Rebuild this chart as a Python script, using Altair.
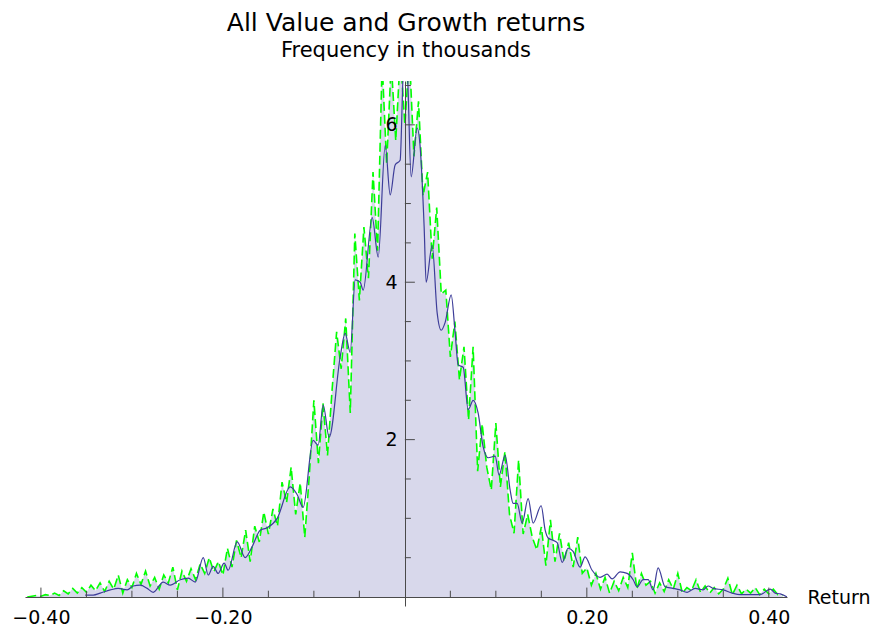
import altair as alt
import pandas as pd

# ---- data ----
blue_x = [-0.3513, -0.3425, -0.3348, -0.3238, -0.3151, -0.3052, -0.2986, -0.2909, -0.2832, -0.2766,
          -0.2656, -0.2579, -0.2469, -0.2381, -0.2304, -0.2216, -0.2161, -0.2107, -0.2052, -0.1986,
          -0.1942, -0.1843, -0.1755, -0.1678, -0.1590, -0.1513, -0.1403, -0.1260, -0.1183, -0.1118,
          -0.1008, -0.0953, -0.0898, -0.0832, -0.0711, -0.0656, -0.0601, -0.0546, -0.0491, -0.0458,
          -0.0359, -0.0293, -0.0216, -0.0161, -0.0107, -0.0052, -0.0020, 0.0005, 0.0030, 0.0069,
          0.0135, 0.0168, 0.0212, 0.0234, 0.0300, 0.0355, 0.0399, 0.0443, 0.0509, 0.0553,
          0.0586, 0.0641, 0.0696, 0.0751, 0.0805, 0.0860, 0.0915, 0.0992, 0.1036, 0.1102,
          0.1157, 0.1190, 0.1234, 0.1289, 0.1355, 0.1410, 0.1498, 0.1542, 0.1575, 0.1630,
          0.1674, 0.1729, 0.1794, 0.1849, 0.1926, 0.1981, 0.2058, 0.2146, 0.2223, 0.2278,
          0.2366, 0.2443, 0.2509, 0.2553, 0.2619, 0.2674, 0.2729, 0.2783, 0.2860, 0.2948,
          0.3025, 0.3102, 0.3190, 0.3278, 0.3333, 0.3388, 0.3498, 0.3597, 0.3685, 0.3795,
          0.3905, 0.4015, 0.4070, 0.4125, 0.4202]
blue_y = [0.025, 0.025, 0.05, 0.09, 0.11, 0.09, 0.14, 0.15, 0.11, 0.06,
          0.19, 0.15, 0.22, 0.24, 0.19, 0.50, 0.28, 0.39, 0.30, 0.43,
          0.34, 0.70, 0.50, 0.64, 0.85, 0.88, 1.00, 1.40, 1.30, 1.14,
          1.99, 1.93, 2.44, 2.03, 3.05, 3.35, 3.11, 4.03, 4.00, 3.90,
          4.82, 4.32, 5.74, 5.11, 5.49, 5.55, 6.60, 6.90, 6.60, 5.34,
          5.96, 5.72, 4.70, 4.00, 4.47, 3.61, 3.39, 3.49, 3.84, 3.35,
          2.95, 2.92, 2.38, 2.50, 2.34, 1.91, 1.77, 1.79, 1.55, 1.80,
          1.36, 1.19, 1.19, 0.94, 1.25, 0.94, 1.16, 0.85, 0.75, 0.72,
          0.69, 0.44, 0.62, 0.58, 0.38, 0.51, 0.34, 0.25, 0.29, 0.23,
          0.32, 0.30, 0.22, 0.13, 0.22, 0.22, 0.09, 0.37, 0.13, 0.11,
          0.09, 0.06, 0.11, 0.09, 0.14, 0.11, 0.09, 0.05, 0.03, 0.03,
          0.03, 0.10, 0.05, 0.04, 0.00]

green_x = [-0.415, -0.410, -0.405, -0.400, -0.395, -0.390, -0.385, -0.380, -0.375, -0.370,
           -0.365, -0.360, -0.355, -0.350, -0.345, -0.340, -0.335, -0.330, -0.325, -0.320,
           -0.315, -0.310, -0.305, -0.300, -0.295, -0.290, -0.285, -0.280, -0.275, -0.270,
           -0.265, -0.260, -0.255, -0.250, -0.245, -0.240, -0.235, -0.230, -0.225, -0.220,
           -0.215, -0.210, -0.205, -0.200, -0.195, -0.190, -0.185, -0.180, -0.175, -0.170,
           -0.165, -0.160, -0.155, -0.150, -0.145, -0.140, -0.135, -0.130, -0.125, -0.120,
           -0.115, -0.110, -0.105, -0.100, -0.095, -0.090, -0.085, -0.080, -0.075, -0.070,
           -0.065, -0.060, -0.055, -0.050, -0.045, -0.040, -0.035, -0.030, -0.025, -0.020,
           -0.015, -0.010, -0.005, 0.000, 0.005, 0.010, 0.015, 0.020, 0.025, 0.030,
           0.035, 0.040, 0.045, 0.050, 0.055, 0.060, 0.065, 0.070, 0.075, 0.080,
           0.085, 0.090, 0.095, 0.100, 0.105, 0.110, 0.115, 0.120, 0.125, 0.130,
           0.135, 0.140, 0.145, 0.150, 0.155, 0.160, 0.165, 0.170, 0.175, 0.180,
           0.185, 0.190, 0.195, 0.200, 0.205, 0.210, 0.215, 0.220, 0.225, 0.230,
           0.235, 0.240, 0.245, 0.250, 0.255, 0.260, 0.265, 0.270, 0.275, 0.280,
           0.285, 0.290, 0.295, 0.300, 0.305, 0.310, 0.315, 0.320, 0.325, 0.330,
           0.335, 0.340, 0.345, 0.350, 0.355, 0.360, 0.365, 0.370, 0.375, 0.380,
           0.385, 0.390, 0.395, 0.400, 0.405, 0.410, 0.415]
green_y = [0.00, 0.01, 0.02, 0.01, 0.03, 0.02, 0.05, 0.02, 0.08, 0.04,
           0.11, 0.05, 0.12, 0.06, 0.15, 0.08, 0.18, 0.07, 0.20, 0.10,
           0.28, 0.05, 0.22, 0.12, 0.30, 0.16, 0.33, 0.14, 0.25, 0.10,
           0.28, 0.18, 0.38, 0.09, 0.33, 0.20, 0.36, 0.22, 0.42, 0.30,
           0.50, 0.32, 0.45, 0.28, 0.62, 0.38, 0.72, 0.50, 0.85, 0.45,
           0.90, 0.70, 1.08, 0.80, 1.12, 0.90, 1.46, 1.20, 1.65, 1.05,
           1.45, 0.76, 1.55, 2.50, 1.70, 2.46, 1.80, 2.63, 3.37, 2.90,
           3.54, 2.34, 4.62, 3.77, 4.70, 4.05, 5.40, 4.40, 6.80, 5.50,
           6.80, 5.80, 6.90, 6.00, 6.90, 5.60, 6.30, 5.10, 5.40, 4.30,
           4.95, 3.85, 3.90, 3.05, 3.50, 2.76, 3.18, 2.25, 3.18, 1.60,
           2.20, 1.65, 1.36, 2.21, 1.40, 1.85, 1.05, 0.81, 1.74, 0.80,
           1.05, 0.76, 0.60, 0.89, 0.40, 0.98, 0.45, 0.81, 0.45, 0.69,
           0.38, 0.76, 0.30, 0.37, 0.15, 0.30, 0.10, 0.25, 0.05, 0.20,
           0.08, 0.25, 0.12, 0.56, 0.10, 0.30, 0.15, 0.20, 0.05, 0.18,
           0.07, 0.22, 0.10, 0.30, 0.05, 0.12, 0.08, 0.22, 0.06, 0.14,
           0.05, 0.12, 0.04, 0.10, 0.24, 0.03, 0.15, 0.04, 0.10, 0.05,
           0.12, 0.03, 0.10, 0.04, 0.10, 0.03, 0.02]

x_major = [-0.4, -0.2, 0.2, 0.4]
x_minor = [-0.35, -0.3, -0.25, -0.15, -0.1, -0.05, 0.05, 0.1, 0.15, 0.25, 0.3, 0.35]
y_major = [2, 4, 6]
y_minor = [0.5, 1, 1.5, 2.5, 3, 3.5, 4.5, 5, 5.5, 6.5]

title_text = "All Value and Growth returns"
subtitle_text = "Frequency in thousands"
x_title = "Return"

# ---- tables ----
blue_df = pd.DataFrame({"r": blue_x, "f": blue_y})
green_df = pd.DataFrame({"r": green_x, "f": green_y})
xmaj_df = pd.DataFrame({"r": x_major})
xmin_df = pd.DataFrame({"r": x_minor})
ymaj_df = pd.DataFrame({"f": y_major})
ymin_df = pd.DataFrame({"f": y_minor})

FONT = "DejaVu Sans"
AX = "#4a4a4a"
W, H = 762, 525
xs = alt.Scale(domain=[-0.4175, 0.42], nice=False, zero=False)
ys = alt.Scale(domain=[-0.114, 6.557], nice=False, zero=False)

x_axis = alt.Axis(values=x_major, offset=-9, ticks=False, grid=False, zindex=1,
                  domainColor=AX, domainWidth=1,
                  labelExpr="replace(format(datum.value, '.2f'), '-', '\u2212')",
                  labelFont=FONT, labelFontSize=19, labelColor="black", labelPadding=11,
                  labelFlush=False, labelOverlap=False,
                  title=x_title, titleX=W + 20, titleY=0, titleAlign="left",
                  titleBaseline="middle", titleFont=FONT, titleFontSize=19,
                  titleFontWeight="normal", titleColor="black", titleAngle=0)
y_axis = alt.Axis(values=y_major, orient="left", offset=-380, ticks=False, grid=False,
                  zindex=1, domainColor=AX, domainWidth=1, format="d", labelFont=FONT,
                  labelFontSize=19, labelColor="black", labelPadding=8,
                  labelFlush=False, labelOverlap=False, title=None)

area = alt.Chart(green_df).mark_area(color="#D8D8EB", clip=True).encode(
    x=alt.X("r:Q", scale=xs, axis=x_axis),
    y=alt.Y("f:Q", scale=ys, axis=y_axis),
    y2=alt.datum(0),
)
green = alt.Chart(green_df).mark_line(color="#00FF00", strokeWidth=1.6,
                                      strokeDash=[9, 4], clip=True).encode(
    x="r:Q", y="f:Q")
blue = alt.Chart(blue_df).mark_line(color="#3D3D99", strokeWidth=1.2,
                                    interpolate="monotone", clip=True).encode(
    x="r:Q", y="f:Q")

xt_major = alt.Chart(xmaj_df).mark_rule(color=AX, strokeWidth=1).encode(
    x="r:Q", y=alt.datum(0), y2=alt.datum(0.12))
xt_minor = alt.Chart(xmin_df).mark_rule(color=AX, strokeWidth=1).encode(
    x="r:Q", y=alt.datum(0), y2=alt.datum(0.08))
yt_major = alt.Chart(ymaj_df).mark_rule(color=AX, strokeWidth=1).encode(
    y="f:Q", x=alt.datum(0), x2=alt.datum(0.011))
yt_minor = alt.Chart(ymin_df).mark_rule(color=AX, strokeWidth=1).encode(
    y="f:Q", x=alt.datum(0), x2=alt.datum(0.0066))

chart = alt.layer(area, green, blue, xt_minor, xt_major, yt_minor, yt_major).properties(
    width=W, height=H, background="white",
    title=alt.TitleParams(text=title_text, subtitle=subtitle_text, anchor="middle",
                          font=FONT, fontSize=25, fontWeight="normal", color="black",
                          subtitleFont=FONT, subtitleFontSize=21, subtitleColor="black",
                          subtitlePadding=4, offset=20),
    autosize=alt.AutoSizeParams(type="none"),
    padding={"left": 17, "top": 73, "right": 84, "bottom": 22},
).configure_view(strokeWidth=0, stroke=None)

chart.save("out.html", embed_options={"renderer": "svg", "actions": False})
